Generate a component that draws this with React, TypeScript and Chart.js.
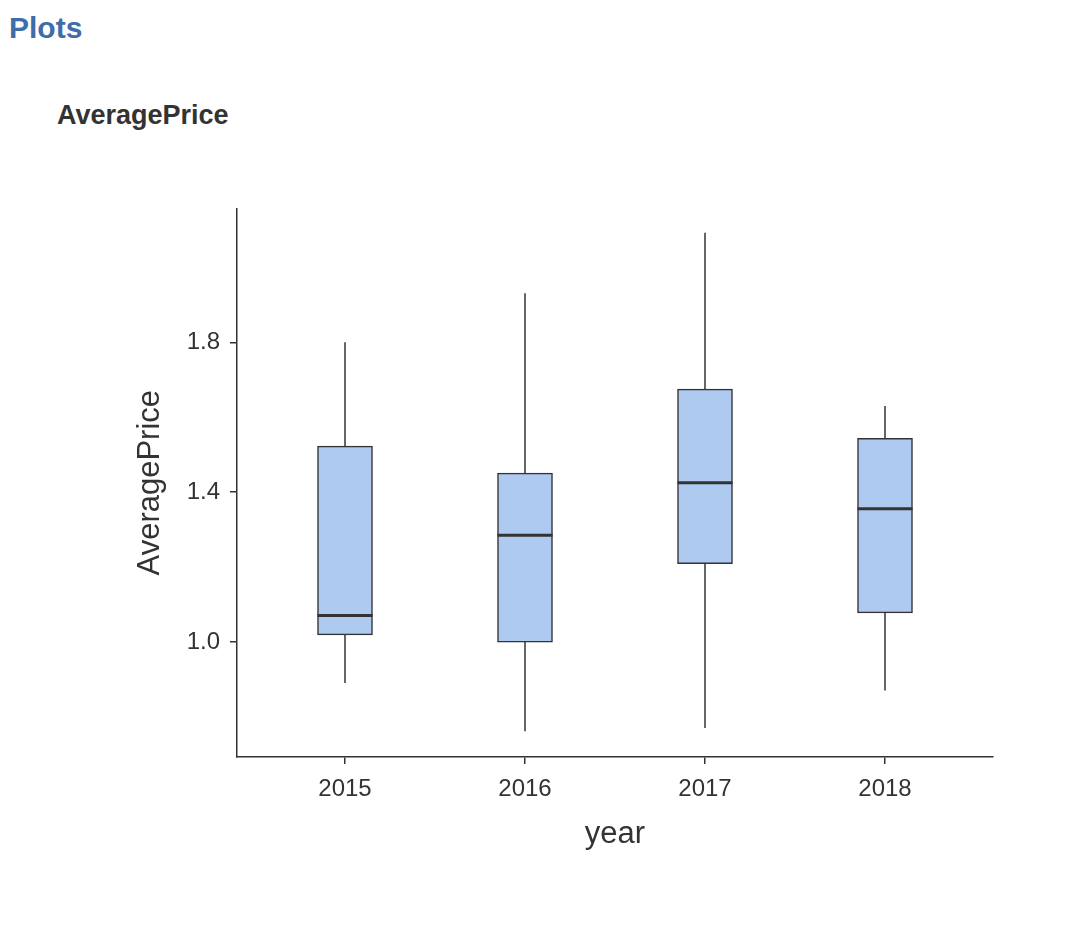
import React, { useEffect, useRef } from "react";
import { Chart, registerables } from "chart.js";

Chart.register(...registerables);

// ---- data ----
const years = ["2015", "2016", "2017", "2018"];
const whiskerLow = [0.891, 0.762, 0.771, 0.871];
const quartile1 = [1.019, 1.0, 1.209, 1.078];
const medians = [1.071, 1.285, 1.425, 1.356];
const quartile3 = [1.523, 1.451, 1.675, 1.544];
const whiskerHigh = [1.8, 1.931, 2.092, 1.63];
const yTickValues = [1.0, 1.4, 1.8];

const FONT = "'Liberation Sans', Arial, Helvetica, sans-serif";
const INK = "#333333";
const BOX_FILL = "#aecaf0";

const boxPlugin = {
  id: "boxWhiskers",
  beforeDatasetsDraw(chart: any) {
    const meta = chart.getDatasetMeta(0);
    const y = chart.scales.y;
    const ctx = chart.ctx;
    ctx.save();
    ctx.strokeStyle = INK;
    ctx.lineWidth = 1.5;
    meta.data.forEach((bar: any, i: number) => {
      ctx.beginPath();
      ctx.moveTo(bar.x, y.getPixelForValue(whiskerLow[i]));
      ctx.lineTo(bar.x, y.getPixelForValue(whiskerHigh[i]));
      ctx.stroke();
    });
    ctx.restore();
  },
  afterDatasetsDraw(chart: any) {
    const meta = chart.getDatasetMeta(0);
    const y = chart.scales.y;
    const ctx = chart.ctx;
    ctx.save();
    ctx.strokeStyle = INK;
    ctx.lineWidth = 3;
    meta.data.forEach((bar: any, i: number) => {
      const py = y.getPixelForValue(medians[i]);
      ctx.beginPath();
      ctx.moveTo(bar.x - bar.width / 2, py);
      ctx.lineTo(bar.x + bar.width / 2, py);
      ctx.stroke();
    });
    ctx.restore();
  },
};

function BoxChart() {
  const ref = useRef<HTMLCanvasElement | null>(null);
  useEffect(() => {
    if (!ref.current) return;
    const chart = new Chart(ref.current, {
      type: "bar",
      data: {
        datasets: [
          {
            data: years.map((_, i) => ({ x: i, y: [quartile1[i], quartile3[i]] })) as any,
            backgroundColor: BOX_FILL,
            borderColor: INK,
            borderWidth: 1.5,
            borderSkipped: false,
            barThickness: 55,
          },
        ],
      },
      options: {
        animation: false,
        responsive: false,
        layout: { padding: { top: 0, right: 10, left: 0, bottom: 0 } },
        plugins: { legend: { display: false }, tooltip: { enabled: false } },
        scales: {
          x: {
            type: "linear",
            min: -0.6,
            max: 3.6,
            offset: false,
            afterBuildTicks: (s: any) => {
              s.ticks = years.map((_, i) => ({ value: i }));
            },
            afterFit: (s: any) => {
              s.height = 96;
            },
            ticks: {
              callback: (v: any) => years[v] ?? "",
              font: { family: FONT, size: 24 },
              color: INK,
              padding: 11,
              maxRotation: 0,
            },
            grid: {
              offset: false,
              drawOnChartArea: false,
              drawTicks: true,
              tickLength: 7,
              color: INK,
              lineWidth: 1.5,
            },
            border: { display: true, color: INK, width: 1.5 },
            title: {
              display: true,
              text: "year",
              font: { family: FONT, size: 31 },
              color: INK,
              padding: 0,
            },
          },
          y: {
            type: "linear",
            min: 0.6933,
            max: 2.1573,
            afterBuildTicks: (s: any) => {
              s.ticks = yTickValues.map((v) => ({ value: v }));
            },
            afterFit: (s: any) => {
              s.width = 105;
            },
            ticks: {
              callback: (v: any) => Number(v).toFixed(1),
              font: { family: FONT, size: 24 },
              color: INK,
              padding: 10,
            },
            grid: {
              drawOnChartArea: false,
              drawTicks: true,
              tickLength: 7,
              color: INK,
              lineWidth: 1.5,
            },
            border: { display: true, color: INK, width: 1.5 },
            title: {
              display: true,
              text: "AveragePrice",
              font: { family: FONT, size: 31 },
              color: INK,
              padding: 0,
            },
          },
        },
      } as any,
      plugins: [boxPlugin],
    });
    return () => chart.destroy();
  }, []);
  return (
    <canvas
      ref={ref}
      width={871}
      height={669}
      style={{ position: "absolute", left: 132, top: 184, width: 871, height: 669 }}
    />
  );
}

export default function App() {
  return (
    <div
      style={{
        position: "absolute",
        left: 0,
        top: 0,
        width: 1082,
        height: 932,
        overflow: "hidden",
        background: "#ffffff",
        fontFamily: FONT,
      }}
    >
      <div
        style={{
          position: "absolute",
          left: 9,
          top: 11,
          fontSize: 30,
          fontWeight: "bold",
          color: "#3e6eaa",
          whiteSpace: "nowrap",
        }}
      >
        Plots
      </div>
      <div
        style={{
          position: "absolute",
          left: 57,
          top: 100,
          fontSize: 27,
          fontWeight: "bold",
          color: INK,
          whiteSpace: "nowrap",
        }}
      >
        AveragePrice
      </div>
      <BoxChart />
    </div>
  );
}
